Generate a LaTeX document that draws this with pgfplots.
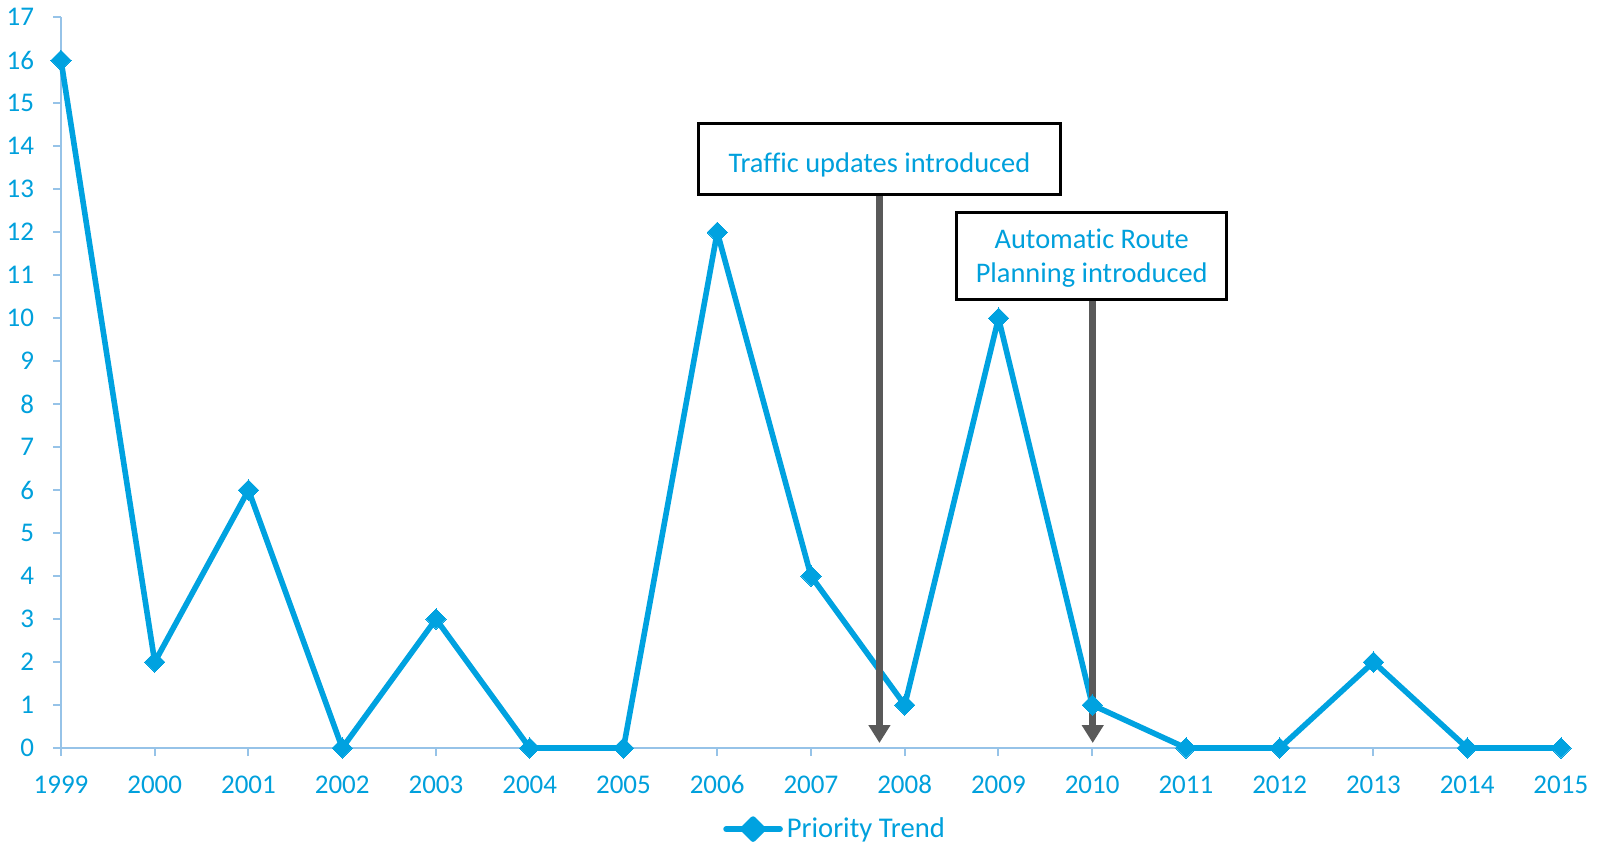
\documentclass[border=0pt]{standalone}
\usepackage{pgfplots}
\pgfplotsset{compat=1.18}
\usepackage{fontspec}
\setmainfont{Carlito}[Ligatures=NoCommon]
\usetikzlibrary{arrows.meta}
\definecolor{txtblue}{RGB}{0,160,220}
\definecolor{lineblue}{RGB}{0,162,224}
\definecolor{axblue}{RGB}{150,195,232}
\definecolor{arrgray}{RGB}{89,89,89}
\begin{document}
\begin{tikzpicture}
\begin{axis}[
  at={(0pt,0pt)}, anchor=origin,
  scale only axis, width=750pt, height=365.35pt,
  xmin=1999, xmax=2015, ymin=0, ymax=17,
  axis x line=bottom, axis y line=left,
  axis line style={-, draw=axblue, line width=1pt},
  tick style={draw=axblue, line width=1pt},
  tick align=outside, major tick length=4pt,
  xtick={1999,...,2015}, ytick={0,...,17},
  font=\fontsize{13.5pt}{16pt}\selectfont,
  ticklabel style={text=txtblue},
  /pgf/number format/assume math mode=true,
  xticklabel style={/pgf/number format/1000 sep={}, yshift=-5.6pt, text height=9.5pt, text depth=0pt},
  yticklabel style={xshift=-6pt},
  clip=false,
  legend style={draw=none, fill=none, at={(0.5167,-0.111)}, anchor=center,
    text=txtblue, font=\fontsize{14.3pt}{16pt}\selectfont, inner sep=0pt,
    legend cell align=left},
  legend image code/.code={
    \draw[line width=2.8pt, line cap=round] (0pt,0pt) -- (27pt,0pt);
    \fill (13.5pt,0pt) ++(0pt,-5pt) -- ++(5pt,5pt) -- ++(-5pt,5pt) -- ++(-5pt,-5pt) -- cycle;
  },
]
\addplot[lineblue, line width=2.8pt, line join=round, mark=square*,
  mark size=3.6pt, mark options={rotate=45, line width=0pt, fill=lineblue}]
  coordinates {
  (1999,16) (2000,2) (2001,6) (2002,0) (2003,3) (2004,0) (2005,0) (2006,12)
  (2007,4) (2008,1) (2009,10) (2010,1) (2011,0) (2012,0) (2013,2) (2014,0) (2015,0)
  };
\addlegendentry{Priority Trend}
\draw[arrgray, line width=3.5pt, -{Triangle[width=10.5pt,length=9pt]}]
  (axis cs:2007.73,12.866) -- (axis cs:2007.73,0.116);
\draw[arrgray, line width=3.5pt, -{Triangle[width=10.5pt,length=9pt]}]
  (axis cs:2010.005,10.44) -- (axis cs:2010.005,0.116);
\draw[black, line width=1.5pt, fill=white]
  (axis cs:2005.805,12.866) rectangle (axis cs:2009.656,14.535);
\node[text=txtblue, font=\fontsize{14.2pt}{16pt}\selectfont] at (axis cs:2007.73,13.57) {Traffic updates introduced};
\draw[black, line width=1.5pt, fill=white]
  (axis cs:2008.554,10.44) rectangle (axis cs:2011.434,12.455);
\node[text=txtblue, align=center, font=\fontsize{14.2pt}{17pt}\selectfont] at (axis cs:2009.994,11.40) {Automatic Route\\Planning introduced};
\end{axis}
\pgfresetboundingbox
\path (-30.5pt,-48pt) rectangle (768.5pt,374pt);
\end{tikzpicture}
\end{document}
